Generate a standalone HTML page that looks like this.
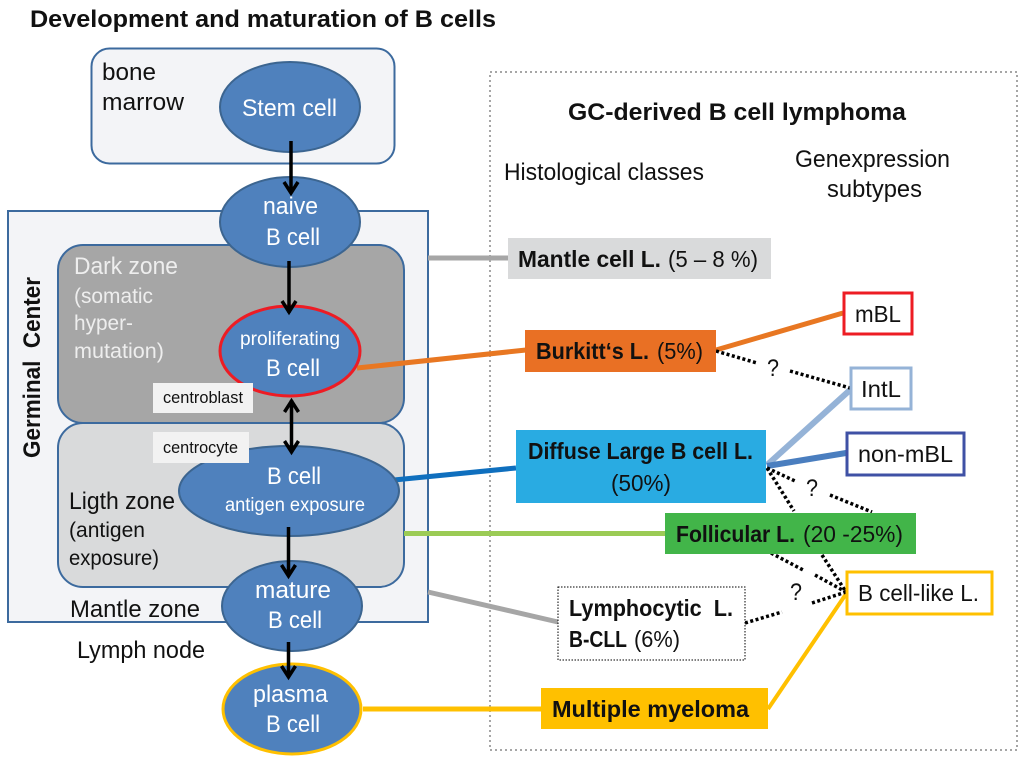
<!DOCTYPE html>
<html>
<head>
<meta charset="utf-8">
<style>
html,body{margin:0;padding:0;background:#fff;width:1024px;height:761px;overflow:hidden}
svg{display:block}
text{font-family:"Liberation Sans",sans-serif;fill:#111}
.b{font-weight:bold}
.w{fill:#fff}
.e{fill:#4f81bd;stroke:#3c6590;stroke-width:2}
.a{fill:none;stroke:#000;stroke-width:3.5}
.d{fill:none;stroke:#000;stroke-width:3.5;stroke-dasharray:3 2.5}
</style>
</head>
<body>
<svg width="1024" height="761" viewBox="0 0 1024 761" xmlns="http://www.w3.org/2000/svg">
<text class="b" x="30" y="27" font-size="24" textLength="466" lengthAdjust="spacingAndGlyphs">Development and maturation of B cells</text>

<rect x="91.500" y="48.500" width="303" height="115" rx="18" fill="#f3f4f7" stroke="#3c6a9e" stroke-width="2"/>
<text x="102" y="80" font-size="24" textLength="54" lengthAdjust="spacingAndGlyphs">bone</text>
<text x="102" y="110" font-size="24" textLength="82" lengthAdjust="spacingAndGlyphs">marrow</text>

<rect x="8" y="211" width="420" height="411" fill="#f3f4f7" stroke="#3c6a9e" stroke-width="2"/>
<rect x="58" y="245" width="346" height="178" rx="25" fill="#a6a6a6" stroke="#3c6a9e" stroke-width="2"/>
<rect x="58" y="423" width="346" height="164" rx="25" fill="#d9dadb" stroke="#3c6a9e" stroke-width="2"/>

<text class="b" transform="translate(40 458) rotate(-90)" font-size="24" textLength="181" lengthAdjust="spacingAndGlyphs" xml:space="preserve">Germinal  Center</text>

<text x="74" y="274" font-size="24" style="fill:#eee" textLength="104" lengthAdjust="spacingAndGlyphs">Dark zone</text>
<text x="74" y="303" font-size="21" style="fill:#eee" textLength="79" lengthAdjust="spacingAndGlyphs">(somatic</text>
<text x="74" y="330" font-size="21" style="fill:#eee" textLength="59" lengthAdjust="spacingAndGlyphs">hyper-</text>
<text x="74" y="358" font-size="21" style="fill:#eee" textLength="90" lengthAdjust="spacingAndGlyphs">mutation)</text>

<text x="69" y="509" font-size="24" textLength="106" lengthAdjust="spacingAndGlyphs">Ligth zone</text>
<text x="69" y="537" font-size="21" textLength="76" lengthAdjust="spacingAndGlyphs">(antigen</text>
<text x="69" y="565" font-size="21" textLength="90" lengthAdjust="spacingAndGlyphs">exposure)</text>
<text x="70" y="617" font-size="24" textLength="130" lengthAdjust="spacingAndGlyphs">Mantle zone</text>
<text x="77" y="658" font-size="24" textLength="128" lengthAdjust="spacingAndGlyphs">Lymph node</text>

<!-- dashed frame -->
<rect x="490" y="72" width="527" height="678" fill="none" stroke="#a6a6a6" stroke-width="2" stroke-dasharray="2 3"/>

<!-- connectors -->
<line x1="428" y1="258" x2="508" y2="258" stroke="#a6a6a6" stroke-width="5"/>
<line x1="357" y1="368" x2="526" y2="350" stroke="#e87722" stroke-width="5"/>
<line x1="394" y1="480" x2="516" y2="468" stroke="#0f6fbe" stroke-width="5"/>
<line x1="404" y1="533.500" x2="665" y2="533.500" stroke="#9bcb55" stroke-width="5"/>
<line x1="428" y1="592" x2="558" y2="622" stroke="#a6a6a6" stroke-width="5"/>
<line x1="363" y1="709" x2="541" y2="709" stroke="#ffc000" stroke-width="5"/>
<line x1="716" y1="350" x2="843" y2="313" stroke="#e87722" stroke-width="5"/>
<line x1="767" y1="465" x2="850" y2="390" stroke="#95b3d7" stroke-width="6"/>
<line x1="767" y1="466" x2="846" y2="453" stroke="#4a7ebf" stroke-width="6"/>
<line x1="768" y1="709" x2="846" y2="594" stroke="#ffc000" stroke-width="4"/>

<!-- dotted -->
<line class="d" x1="716" y1="351" x2="757" y2="363"/>
<line class="d" x1="790" y1="371" x2="850" y2="388"/>
<line class="d" x1="767" y1="468" x2="795" y2="481"/>
<line class="d" x1="830" y1="495" x2="872" y2="512"/>
<line class="d" x1="767" y1="468" x2="794" y2="511"/>
<line class="d" x1="771" y1="553" x2="805" y2="571"/>
<line class="d" x1="815" y1="575" x2="846" y2="592"/>
<line class="d" x1="822" y1="555" x2="846" y2="592"/>
<line class="d" x1="745" y1="623" x2="782" y2="612"/>
<line class="d" x1="812" y1="603" x2="846" y2="592"/>
<text x="767" y="376" font-size="24" textLength="12" lengthAdjust="spacingAndGlyphs">?</text>
<text x="806" y="496" font-size="24" textLength="12" lengthAdjust="spacingAndGlyphs">?</text>
<text x="790" y="600" font-size="24" textLength="12" lengthAdjust="spacingAndGlyphs">?</text>

<!-- ellipses -->
<ellipse class="e" cx="290" cy="107" rx="70" ry="45"/>
<ellipse class="e" cx="290" cy="222" rx="70" ry="45"/>
<ellipse class="e" cx="290" cy="351" rx="70" ry="45" style="stroke:#ed1c24;stroke-width:3"/>
<ellipse class="e" cx="289" cy="491" rx="110" ry="45"/>
<ellipse class="e" cx="292" cy="606" rx="70" ry="45"/>
<ellipse class="e" cx="292" cy="709" rx="69" ry="45" style="stroke:#ffc000;stroke-width:3"/>

<text class="w" x="242" y="116" font-size="24" textLength="95" lengthAdjust="spacingAndGlyphs">Stem cell</text>
<text class="w" x="263" y="214" font-size="24" textLength="55" lengthAdjust="spacingAndGlyphs">naive</text>
<text class="w" x="266" y="245" font-size="24" textLength="54" lengthAdjust="spacingAndGlyphs">B cell</text>
<text class="w" x="240" y="345" font-size="19" textLength="100" lengthAdjust="spacingAndGlyphs">proliferating</text>
<text class="w" x="266" y="376" font-size="24" textLength="54" lengthAdjust="spacingAndGlyphs">B cell</text>
<text class="w" x="267" y="484" font-size="24" textLength="54" lengthAdjust="spacingAndGlyphs">B cell</text>
<text class="w" x="225" y="511" font-size="19" textLength="140" lengthAdjust="spacingAndGlyphs">antigen exposure</text>
<text class="w" x="255" y="598" font-size="24" textLength="76" lengthAdjust="spacingAndGlyphs">mature</text>
<text class="w" x="268" y="628" font-size="24" textLength="54" lengthAdjust="spacingAndGlyphs">B cell</text>
<text class="w" x="253" y="702" font-size="24" textLength="75" lengthAdjust="spacingAndGlyphs">plasma</text>
<text class="w" x="266" y="732" font-size="24" textLength="54" lengthAdjust="spacingAndGlyphs">B cell</text>

<!-- small labels -->
<rect x="153" y="383" width="100" height="30" fill="#f2f2f2"/>
<text x="163" y="403" font-size="17" textLength="80" lengthAdjust="spacingAndGlyphs">centroblast</text>
<rect x="153" y="432" width="96" height="31" fill="#f2f2f2"/>
<text x="163" y="453" font-size="17" textLength="75" lengthAdjust="spacingAndGlyphs">centrocyte</text>

<!-- arrows -->
<path class="a" d="M291 141V193M284 182L291 193L298 182"/>
<path class="a" d="M289 261V313M282 301L289 312L296 301"/>
<path class="a" d="M291.500 400V452M284.500 412L291.500 401L298.500 412M284.500 441L291.500 452L298.500 441"/>
<path class="a" d="M288.500 527V576M281.500 565L288.500 576L295.500 565"/>
<path class="a" d="M288.500 642V677M281.500 666L288.500 677L295.500 666"/>

<!-- right column -->
<text class="b" x="568" y="120" font-size="24" textLength="338" lengthAdjust="spacingAndGlyphs">GC-derived B cell lymphoma</text>
<text x="504" y="180" font-size="24" textLength="200" lengthAdjust="spacingAndGlyphs">Histological classes</text>
<text x="795" y="167" font-size="24" textLength="155" lengthAdjust="spacingAndGlyphs">Genexpression</text>
<text x="827" y="197" font-size="24" textLength="95" lengthAdjust="spacingAndGlyphs">subtypes</text>

<rect x="508" y="238" width="263" height="41" fill="#d9dadb"/>
<text class="b" x="518" y="267" font-size="23" textLength="143" lengthAdjust="spacingAndGlyphs">Mantle cell L.</text>
<text x="668" y="267" font-size="23" textLength="90" lengthAdjust="spacingAndGlyphs">(5 – 8 %)</text>

<rect x="525" y="330" width="191" height="42" fill="#e97024"/>
<text class="b" x="536" y="359" font-size="23" textLength="113" lengthAdjust="spacingAndGlyphs">Burkitt‘s L.</text>
<text x="657" y="359" font-size="23" textLength="46" lengthAdjust="spacingAndGlyphs">(5%)</text>

<rect x="516" y="430" width="250" height="73" fill="#29abe2"/>
<text class="b" x="528" y="459" font-size="23" textLength="225" lengthAdjust="spacingAndGlyphs">Diffuse Large B cell L.</text>
<text x="611" y="491" font-size="23" textLength="60" lengthAdjust="spacingAndGlyphs">(50%)</text>

<rect x="665" y="513" width="251" height="41" fill="#42b549"/>
<text class="b" x="676" y="542" font-size="23" textLength="119" lengthAdjust="spacingAndGlyphs">Follicular L.</text>
<text x="803" y="542" font-size="23" textLength="100" lengthAdjust="spacingAndGlyphs">(20 -25%)</text>

<rect x="558" y="587" width="187" height="73" fill="#fff" stroke="#000" stroke-width="1" stroke-dasharray="1.500 1.500"/>
<text class="b" x="569" y="616" font-size="23" textLength="164" lengthAdjust="spacingAndGlyphs" xml:space="preserve">Lymphocytic  L.</text>
<text class="b" x="569" y="647" font-size="23" textLength="58" lengthAdjust="spacingAndGlyphs">B-CLL</text>
<text x="634" y="647" font-size="23" textLength="46" lengthAdjust="spacingAndGlyphs">(6%)</text>

<rect x="541" y="688" width="227" height="41" fill="#ffc000"/>
<text class="b" x="552" y="717" font-size="23" textLength="197" lengthAdjust="spacingAndGlyphs">Multiple myeloma</text>

<rect x="844" y="293" width="68" height="41" fill="#fff" stroke="#ed1c24" stroke-width="3"/>
<text x="855" y="322" font-size="23" textLength="46" lengthAdjust="spacingAndGlyphs">mBL</text>
<rect x="851" y="368" width="60" height="41" fill="#fff" stroke="#95b3d7" stroke-width="3"/>
<text x="861" y="397" font-size="23" textLength="40" lengthAdjust="spacingAndGlyphs">IntL</text>
<rect x="847" y="433" width="117" height="42" fill="#fff" stroke="#3f51a5" stroke-width="3"/>
<text x="858" y="462" font-size="23" textLength="95" lengthAdjust="spacingAndGlyphs">non-mBL</text>
<rect x="847" y="572" width="145" height="42" fill="#fff" stroke="#ffc000" stroke-width="3"/>
<text x="858" y="601" font-size="23" textLength="121" lengthAdjust="spacingAndGlyphs">B cell-like L.</text>
</svg>
</body>
</html>
